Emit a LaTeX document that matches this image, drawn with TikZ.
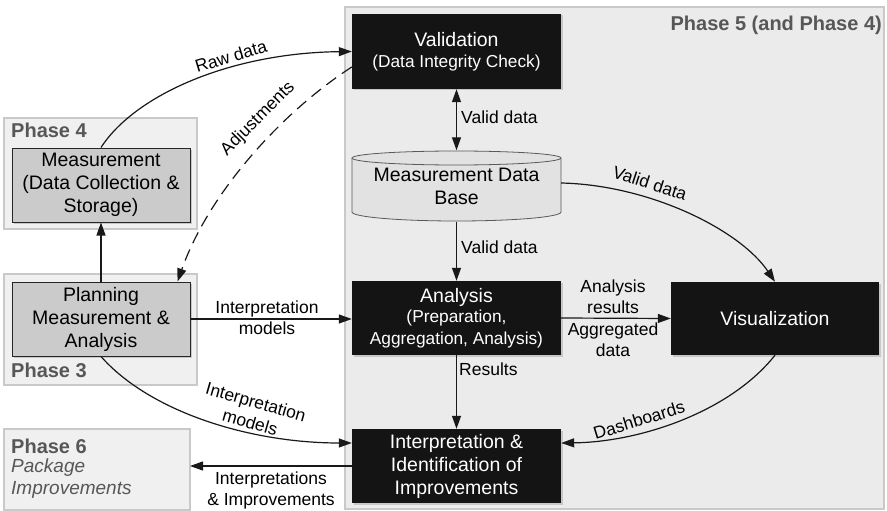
\documentclass[tikz,border=0pt]{standalone}
\usepackage{fontspec}
\setmainfont{Liberation Sans}
\usetikzlibrary{arrows.meta,calc,shadows}

\newcommand\boxfont{\fontsize{19.5}{23}\selectfont}
\newcommand\subfont{\fontsize{17.3}{20.5}\selectfont}
\newcommand\lblfont{\fontsize{17.5}{21}\selectfont}
\newcommand\phasefont{\fontsize{20}{22}\selectfont\bfseries}

\definecolor{phasefill}{HTML}{EBEBEB}
\definecolor{phaseline}{HTML}{C9C9C9}
\definecolor{groupfill}{HTML}{F0F0F0}
\definecolor{darkbox}{HTML}{141414}
\definecolor{lightbox}{HTML}{CBCBCB}
\definecolor{dbfill}{HTML}{E2E2E2}
\definecolor{phasetext}{HTML}{575757}

\begin{document}
\begin{tikzpicture}[x=1pt,y=-1pt,
  phaseframe/.style={draw=phaseline, line width=1.2pt, fill=phasefill},
  groupframe/.style={draw=phaseline, line width=1.2pt, fill=groupfill},
  boxshadow/.style={general shadow={fill=black!22, shadow xshift=1.5pt, shadow yshift=-1.5pt}},
  darkstep/.style={rectangle, fill=darkbox, text=white, align=center,
    inner sep=0pt, font=\boxfont, boxshadow},
  lightstep/.style={rectangle, draw=black!85, line width=1pt, fill=lightbox,
    align=center, inner sep=0pt, font=\boxfont, boxshadow},
  conn/.style={draw=black!90, line width=1.2pt, -{Triangle[length=13pt,width=9pt]}},
  lbl/.style={font=\lblfont, align=center, inner sep=0pt},
  phaselabel/.style={font=\phasefont, text=phasetext, inner sep=0pt}
]
\fill[white] (0,0) rectangle (887,511);
\useasboundingbox (0,0) rectangle (887,511);

% group frames
\draw[phaseframe] (345,7) rectangle (884,509);
\draw[groupframe] (4,118) rectangle (197,229);
\draw[groupframe] (4,274) rectangle (197,385);
\draw[groupframe] (4,429) rectangle (190,510);

\node[phaselabel, anchor=base east] (p5) at (882,31) {Phase 5 (and Phase 4)};
\node[phaselabel, anchor=base west] (p4) at (11,137) {Phase 4};
\node[phaselabel, anchor=base west] (p3) at (11,377) {Phase 3};
\node[phaselabel, anchor=base west] (p6) at (11,453) {Phase 6};
\node[font=\fontsize{19}{22}\selectfont\itshape, text=phasetext, anchor=base west,
  inner sep=0pt] (p6a) at (11,472) {Package};
\node[font=\fontsize{19}{22}\selectfont\itshape, text=phasetext, anchor=base west,
  inner sep=0pt] (p6b) at (11,494) {Improvements};
\coordinate (ph6) at (190,469.5);

% process steps
\node[darkstep, minimum width=209, minimum height=75] (val) at (456.5,51.5)
  {Validation\\[-2pt]{\subfont (Data Integrity Check)}};
\node[darkstep, minimum width=209, minimum height=74] (ana) at (456.5,318)
  {Analysis\\[-3pt]{\subfont (Preparation,}\\[-1pt]{\subfont Aggregation, Analysis)}};
\node[darkstep, minimum width=208, minimum height=73] (viz) at (775,318.5)
  {Visualization};
\node[darkstep, minimum width=209, minimum height=74] (itp) at (456.5,466)
  {Interpretation \&\\Identification of\\Improvements};
\node[lightstep, minimum width=178, minimum height=74] (meas) at (101,185)
  {Measurement\\(Data Collection \&\\Storage)};
\node[lightstep, minimum width=178, minimum height=74] (plan) at (101,319)
  {Planning\\Measurement \&\\Analysis};

% measurement data base (cylinder)
\filldraw[draw=black!65, line width=0.8pt, fill=dbfill]
  (352,158) -- (352,212)
  arc[start angle=180, end angle=360, x radius=104.5pt, y radius=9pt]
  -- (561,158)
  arc[start angle=0, end angle=180, x radius=104.5pt, y radius=7pt] -- cycle;
\draw[draw=black!65, line width=0.8pt] (352,158)
  arc[start angle=180, end angle=360, x radius=104.5pt, y radius=7pt];
\node[font=\boxfont, align=center, inner sep=0pt, minimum width=209, minimum height=71]
  (db) at (456.5,186) {Measurement Data\\Base};

% connectors
\draw[conn] (meas.north) .. controls (135,95) and (230,53) .. (val.west);
\node[lbl, rotate=17] (lraw) at (231,56) {Raw data};

\draw[conn, dash pattern=on 12pt off 7pt]
  ($(val.west)+(0,15.5)$) .. controls (285,110) and (210,190) .. ($(plan.north east)+(-13,0)$);
\node[lbl, rotate=45] (ladj) at (258,119) {Adjustments};

\draw[conn] (plan.north) -- (meas.south);

\draw[conn] (plan.east) -- (plan.east -| ana.west);
\node[lbl] (lim1) at (267,318) {Interpretation\\models};

\draw[conn] (plan.south) .. controls (150,412) and (250,443) .. ($(itp.west)+(0,-23)$);
\node[lbl, rotate=-16] (lim2) at (253,412) {Interpretation\\models};

\draw[conn] (itp.west) -- (itp.west -| ph6);
\node[lbl] (limp) at (271,490) {Interpretations\\\& Improvements};

\draw[conn, {Triangle[length=13pt,width=9pt]}-{Triangle[length=13pt,width=9pt]}]
  (val.south) -- (db.north);
\node[lbl, anchor=west] (lv1) at (461,117) {Valid data};

\draw[conn] (db.south) -- (ana.north);
\node[lbl, anchor=west] (lv2) at (461,247) {Valid data};

\draw[conn] ($(db.east)+(0,-3)$) .. controls (650,185) and (740,230) .. (viz.north);
\node[lbl, rotate=-18] (lv3) at (650,183) {Valid data};

\draw[conn] (ana.east) -- (viz.west);
\node[lbl, anchor=south] (lar) at (613,314) {Analysis\\results};
\node[lbl, anchor=north] (lag) at (613,323) {Aggregated\\data};

\draw[conn] (ana.south) -- (itp.north);
\node[lbl, anchor=west] (lres) at (459,369) {Results};

\draw[conn] (viz.south) .. controls (730,412) and (640,442) .. ($(itp.east)+(0,-23)$);
\node[lbl, rotate=17] (ldash) at (639,420) {Dashboards};
\end{tikzpicture}
\end{document}
